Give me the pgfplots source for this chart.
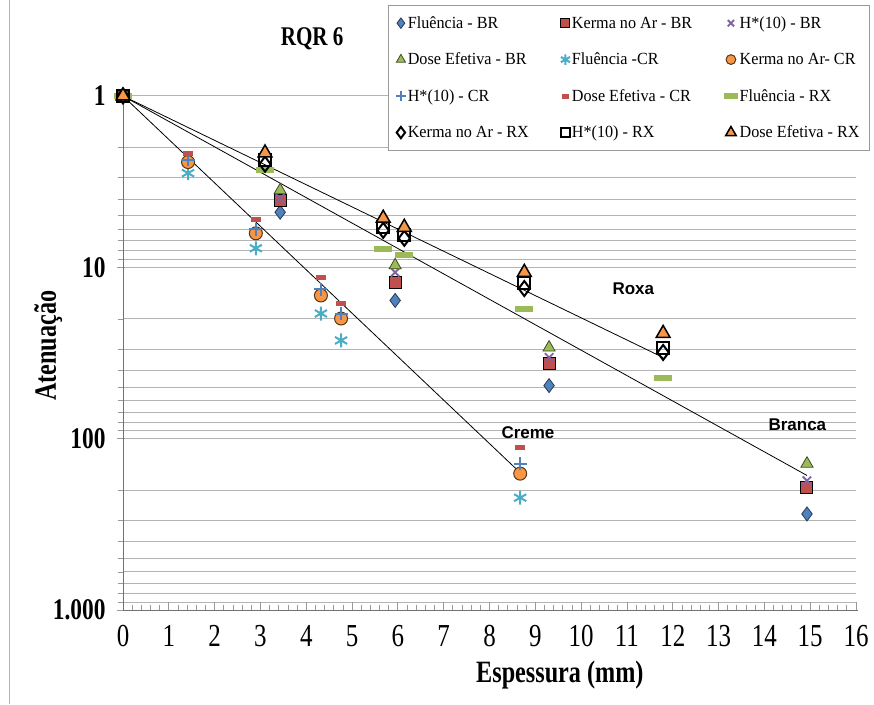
\documentclass[border=0pt]{standalone}
\usepackage{fontspec}
\setmainfont{Liberation Serif}
\newfontfamily\cond[FakeStretch=0.78]{Liberation Serif}
\newfontfamily\legfont[FakeStretch=0.95]{Liberation Serif}
\newfontfamily\arialf{Liberation Sans}
\usepackage{pgfplots}
\pgfplotsset{compat=1.18}

\definecolor{xblue}{HTML}{4F81BD}
\definecolor{xred}{HTML}{C0504D}
\definecolor{xgreen}{HTML}{9BBB59}
\definecolor{xpurple}{HTML}{8064A2}
\definecolor{xcyan}{HTML}{4BACC6}
\definecolor{xorange}{HTML}{F79646}
\definecolor{gridc}{HTML}{B4B4B4}

\begin{document}
\begin{tikzpicture}
\path[use as bounding box] (0pt,0pt) rectangle (874pt,704pt);
\draw[gray!60, line width=1pt] (9pt,0pt) -- (9pt,704pt);
\begin{axis}[
  at={(123pt,94pt)}, anchor=south west,
  scale only axis, width=733pt, height=514pt,
  xmin=0, xmax=16,
  ymode=log, ymin=1, ymax=1000, y dir=reverse,
  clip=false,
  axis line style={draw=none},
  xtick={0,...,16}, minor x tick num=4,
  ytick={1,10,100,1000}, yticklabels={1,10,100,1.000},
  minor ytick={2,3,4,5,6,7,8,9,20,30,40,50,60,70,80,90,200,300,400,500,600,700,800,900},
  xtick pos=bottom, ytick pos=left,
  tick align=inside,
  major tick length=8pt, minor tick length=5pt,
  tick style={gray!80, line width=0.8pt},
  major y tick style={xshift=-6pt},
  minor y tick style={xshift=-5pt},
  ymajorgrids, yminorgrids,
  major grid style={gridc, line width=1pt},
  minor grid style={gridc, line width=1pt},
  /pgf/number format/assume math mode=true,
  xticklabel style={font=\cond\fontsize{32}{32}\selectfont, yshift=-12pt},
  yticklabel style={font=\cond\bfseries\fontsize{30}{30}\selectfont, xshift=-14pt},
  xlabel={Espessura (mm)},
  xlabel style={font=\cond\bfseries\fontsize{31}{31}\selectfont, at={(axis description cs:0.596,-0.126)}, anchor=center},
  ylabel={Atenuação},
  ylabel style={font=\cond\bfseries\fontsize{31}{31}\selectfont, at={(axis description cs:-0.102,0.514)}, anchor=center},
  title={RQR 6},
  title style={font=\cond\bfseries\fontsize{27}{27}\selectfont, at={(axis description cs:0.258,1.099)}, anchor=center},
  legend columns=3,
  legend cell align=left,
  legend image post style={scale=0.75},
  legend style={at={(axis description cs:1.019,1.177)}, anchor=north east,
    draw=gray!80, fill=white, line width=1pt,
    font=\legfont\fontsize{17}{17}\selectfont,
    row sep=19pt, inner xsep=8pt, inner ysep=9pt,
    /tikz/every even column/.append style={column sep=30pt}},
]
% BR
\addplot[only marks, mark=diamond*, mark size=7pt, mark options={fill=xblue, draw=xblue!45!black, line width=0.8pt}]
  coordinates {(0,1) (3.43,4.77) (5.94,15.6) (9.30,49.0) (14.93,275)};
\addlegendentry{Fluência - BR}
\addplot[only marks, mark=square*, mark size=6pt, mark options={fill=xred, draw=black, line width=1pt}]
  coordinates {(0,1) (3.43,4.06) (5.94,12.2) (9.30,36.4) (14.93,194)};
\addlegendentry{Kerma no Ar - BR}
\addplot[only marks, mark=x, mark size=6pt, mark options={draw=xpurple, line width=1.8pt}]
  coordinates {(0,1) (3.43,3.95) (5.94,10.7) (9.30,33.6) (14.93,176)};
\addlegendentry{H*(10) - BR}
\addplot[only marks, mark=triangle*, mark size=7pt, mark options={fill=xgreen, draw=xgreen!40!black, line width=0.8pt}]
  coordinates {(0,1) (3.43,3.55) (5.94,9.73) (9.30,29.4) (14.93,140)};
\addlegendentry{Dose Efetiva - BR}
% CR
\addplot[only marks, mark=asterisk, mark size=7pt, mark options={draw=xcyan, line width=2pt}]
  coordinates {(0,1) (1.42,2.82) (2.90,7.74) (4.32,18.6) (4.76,26.7) (8.67,221)};
\addlegendentry{Fluência -CR}
\addplot[only marks, mark=*, mark size=6.5pt, mark options={fill=xorange, draw=xorange!35!black, line width=1pt}]
  coordinates {(0,1) (1.42,2.43) (2.90,6.33) (4.32,14.6) (4.76,19.9) (8.67,160)};
\addlegendentry{Kerma no Ar- CR}
\addplot[only marks, mark=+, mark size=6.5pt, mark options={draw=xblue, line width=2pt}]
  coordinates {(0,1) (1.42,2.35) (2.90,6.0) (4.32,13.4) (4.76,18.6) (8.67,140)};
\addlegendentry{H*(10) - CR}
\addplot[only marks, mark=-, mark size=5pt, mark options={draw=xred, line width=5pt}]
  coordinates {(0,1) (1.42,2.18) (2.90,5.24) (4.32,11.4) (4.76,16.2) (8.67,113)};
\addlegendentry{Dose Efetiva - CR}
% RX
\addplot[only marks, mark=-, mark size=9pt, mark options={draw=xgreen, line width=6pt}]
  coordinates {(0,1) (3.10,2.71) (5.68,7.85) (6.14,8.51) (8.76,17.4) (11.79,44.0)};
\addlegendentry{Fluência - RX}
\addplot[only marks, mark=diamond, mark size=7.5pt, mark options={draw=black, fill=white, line width=2pt}]
  coordinates {(0,1) (3.10,2.50) (5.68,6.08) (6.14,6.77) (8.76,13.3) (11.79,31.4)};
\addlegendentry{Kerma no Ar - RX}
\addplot[only marks, mark=square, mark size=6pt, mark options={draw=black, fill=white, line width=2pt}]
  coordinates {(0,1) (3.10,2.37) (5.68,5.84) (6.14,6.50) (8.76,12.4) (11.79,29.4)};
\addlegendentry{H*(10) - RX}
\addplot[only marks, mark=triangle*, mark size=8pt, mark options={fill=xorange, draw=black, line width=1.5pt}]
  coordinates {(0,1) (3.10,2.15) (5.68,5.17) (6.14,5.84) (8.76,10.7) (11.79,24.3)};
\addlegendentry{Dose Efetiva - RX}
% trend lines
\addplot[black, line width=0.8pt, forget plot] coordinates {(0,1) (8.67,158)};
\addplot[black, line width=0.8pt, forget plot] coordinates {(0,1) (14.93,164)};
\addplot[black, line width=0.8pt, forget plot] coordinates {(0,1) (11.79,33.6)};
% labels
\node[font=\arialf\bfseries\fontsize{17}{17}\selectfont] at (axis cs:11.14,13.3) {Roxa};
\node[font=\arialf\bfseries\fontsize{17}{17}\selectfont] at (axis cs:8.84,92.2) {Creme};
\node[font=\arialf\bfseries\fontsize{17}{17}\selectfont] at (axis cs:14.72,82.8) {Branca};
% axis lines
\draw[gray!90!black, line width=1pt] (axis description cs:0,1) -- (axis description cs:0,0) -- (axis description cs:1.003,0);
\end{axis}
\end{tikzpicture}
\end{document}
